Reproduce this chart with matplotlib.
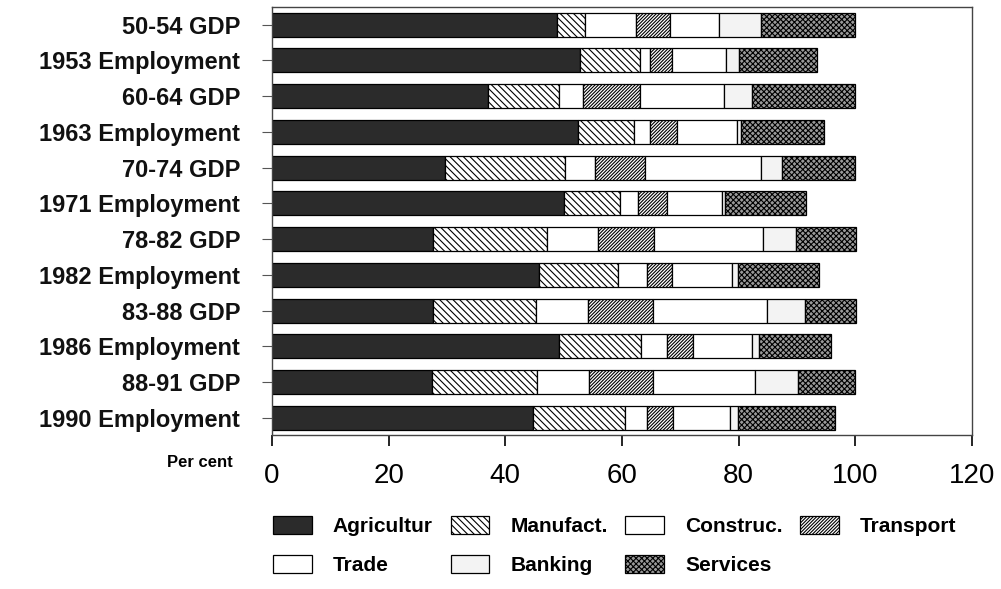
import numpy as np
import matplotlib
matplotlib.use('Agg')
import matplotlib.pyplot as plt

plt.rcParams['font.family'] = ['Liberation Sans', 'DejaVu Sans']
plt.rcParams['hatch.linewidth'] = 0.8

# data (per cent)
labels = ['50-54 GDP', '1953 Employment', '60-64 GDP', '1963 Employment',
          '70-74 GDP', '1971 Employment', '78-82 GDP', '1982 Employment',
          '83-88 GDP', '1986 Employment', '88-91 GDP', '1990 Employment']
agriculture = [48.8, 52.8, 37.1, 52.4, 29.7, 50.0, 27.6, 45.8, 27.6, 49.2, 27.5, 44.7]
manufact = [4.8, 10.3, 12.1, 9.7, 20.6, 9.7, 19.6, 13.5, 17.7, 14.1, 18.0, 15.9]
construc = [8.8, 1.7, 4.2, 2.7, 5.0, 3.0, 8.7, 5.0, 8.8, 4.5, 8.8, 3.7]
transport = [5.8, 3.8, 9.7, 4.6, 8.6, 5.1, 9.6, 4.3, 11.3, 4.4, 11.1, 4.5]
trade = [8.4, 9.3, 14.4, 10.4, 19.9, 9.3, 18.6, 10.3, 19.4, 10.1, 17.4, 9.7]
banking = [7.2, 2.1, 4.8, 0.6, 3.6, 0.6, 5.8, 1.0, 6.6, 1.2, 7.3, 1.4]
services = [16.1, 13.5, 17.6, 14.3, 12.6, 13.9, 10.2, 13.9, 8.7, 12.4, 9.9, 16.6]

series = [('Agricultur', agriculture, '#2b2b2b', ''),
          ('Manufact.', manufact, 'white', '\\\\\\\\\\'),
          ('Construc.', construc, 'white', ''),
          ('Transport', transport, 'white', '//////////'),
          ('Trade', trade, 'white', ''),
          ('Banking', banking, '#f3f3f3', ''),
          ('Services', services, '#9a9a9a', 'xxxxxx')]

fig = plt.figure(figsize=(10.01, 5.89), dpi=100)
ax = fig.add_axes([0.2717, 0.2615, 0.6993, 0.7271])

y = np.arange(len(labels))
left = np.zeros(len(labels))
handles = []
for name, vals, col, hatch in series:
    b = ax.barh(y, vals, left=left, height=0.67, color=col, hatch=hatch,
                edgecolor='black', linewidth=0.9, label=name)
    handles.append(b)
    left += np.array(vals)

ax.set_xlim(0, 120)
ax.set_ylim(11.476, -0.503)
ax.set_xticks(range(0, 121, 20))
ax.set_yticks(y)
ax.set_yticklabels(labels, fontsize=17, fontweight='bold', color='#111111')
ax.tick_params(axis='y', length=7, width=0.8, pad=16, color='#555555')
ax.tick_params(axis='x', length=8, width=1.2, pad=12, labelsize=20)
for s in ax.spines.values():
    s.set_color('#444444')
    s.set_linewidth(1.0)

fig.text(0.233, 0.214, 'Per cent', ha='right', va='center', fontsize=12, fontweight='bold')

# legend in row order: Agri, Manuf, Constr, Transport / Trade, Banking, Services
order = [0, 4, 1, 5, 2, 6, 3]
fig.legend([handles[i] for i in order], [series[i][0] for i in order],
           ncol=4, loc='upper left', bbox_to_anchor=(273 / 1001, 1 - 516 / 589),
           frameon=False, borderpad=0, borderaxespad=0,
           prop={'size': 15, 'weight': 'bold'},
           handlelength=1.87, handleheight=0.96, handletextpad=1.0,
           columnspacing=0.85, labelspacing=0.9)

fig.savefig('out.png', dpi=100)
